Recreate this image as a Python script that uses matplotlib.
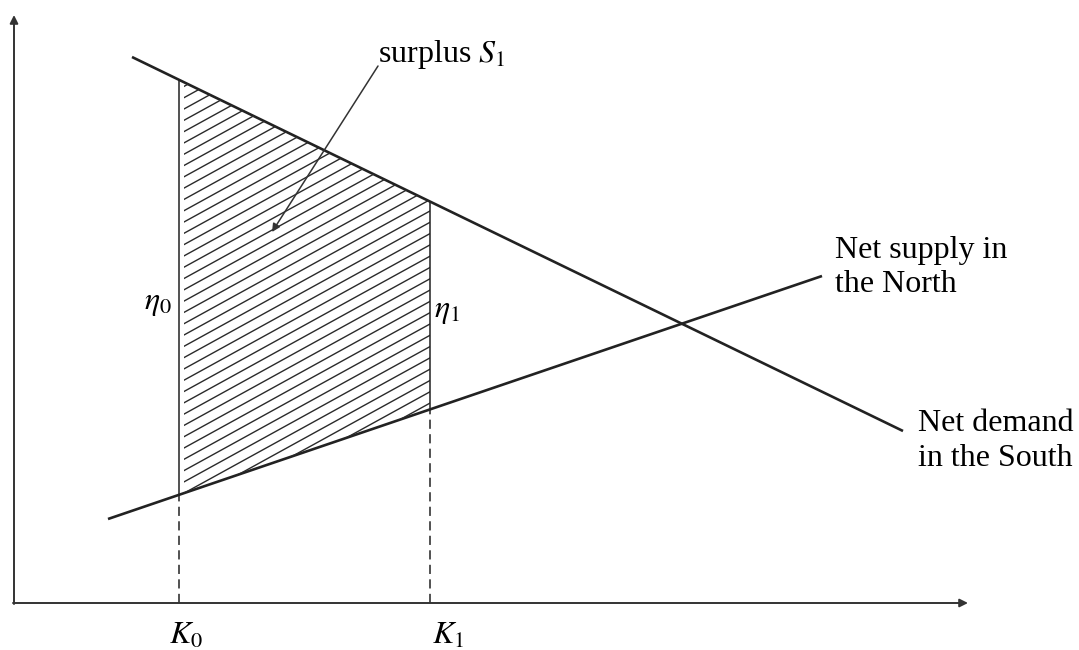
import numpy as np
import matplotlib.pyplot as plt
from matplotlib.patches import Polygon

plt.rcParams['font.family'] = ['Liberation Serif', 'DejaVu Serif']
plt.rcParams['mathtext.fontset'] = 'stix'

# endpoints of the two lines (origin at the corner of the axes)
demand_x = [118, 889]
demand_y = [546, 172]
supply_x = [94, 808]
supply_y = [84, 327]

K0 = 165
K1 = 416
x_end = 954
y_end = 588


def line_y(xs, ys, x):
    return np.interp(x, xs, ys)


fig = plt.figure(figsize=(10.79, 6.5), dpi=100)
ax = fig.add_axes([0, 0, 1, 1])
ax.set_xlim(-14, 1065)
ax.set_ylim(-47, 603)
ax.axis('off')

# axes with arrows
ax.annotate('', xy=(x_end, 0), xytext=(-1, 0),
            arrowprops=dict(arrowstyle='-|>', lw=1.4, color='#333333',
                            mutation_scale=12, shrinkA=0, shrinkB=0))
ax.annotate('', xy=(0, y_end), xytext=(0, -1),
            arrowprops=dict(arrowstyle='-|>', lw=1.4, color='#333333',
                            mutation_scale=12, shrinkA=0, shrinkB=0))

# demand and supply
ax.plot(demand_x, demand_y, color='#222222', lw=1.9, solid_capstyle='butt')
ax.plot(supply_x, supply_y, color='#222222', lw=1.9, solid_capstyle='butt')

d0 = line_y(demand_x, demand_y, K0)
d1 = line_y(demand_x, demand_y, K1)
s0 = line_y(supply_x, supply_y, K0)
s1 = line_y(supply_x, supply_y, K1)

# hatched surplus area
poly = Polygon([(K0 + 5, s0 + 2), (K0 + 5, d0 - 2), (K1, d1), (K1, s1)],
               closed=True, facecolor='none', edgecolor='none')
ax.add_patch(poly)
slope = 0.55
for c in np.arange(-600, 600, 11.3):
    xs = np.array([K0 - 10, K1 + 10])
    hl, = ax.plot(xs, s0 + c + slope * (xs - K0), color='#2a2a2a', lw=1.0)
    hl.set_clip_path(poly)

# vertical lines at K0, K1
ax.plot([K0, K0], [s0, d0], color='#222222', lw=1.1)
ax.plot([K1, K1], [s1, d1], color='#222222', lw=1.1)
ax.plot([K0, K0], [0, s0], color='#222222', lw=1.1, linestyle=(0, (6, 3.5)))
ax.plot([K1, K1], [0, s1], color='#222222', lw=1.1, linestyle=(0, (6, 3.5)))

fs = 23
ax.text(K0 - 21, 300, r'$\eta_0$', fontsize=fs, ha='center', va='center')
ax.text(K1 + 17, 291, r'$\eta_1$', fontsize=fs, ha='center', va='center')
ax.text(K0 + 7, -33, r'$K_0$', fontsize=fs, ha='center', va='center')
ax.text(K1 + 18, -33, r'$K_1$', fontsize=fs, ha='center', va='center')

ax.text(364, 541, r'surplus $S_1$', fontsize=fs, ha='left', va='baseline')
ax.annotate('', xy=(258, 371), xytext=(364, 537),
            arrowprops=dict(arrowstyle='-|>', lw=1.1, color='#333333',
                            mutation_scale=12, shrinkA=0, shrinkB=0))

ax.text(821, 367, 'Net supply in\nthe North', fontsize=fs, ha='left', va='top',
        linespacing=1.25)
ax.text(904, 194, 'Net demand\nin the South', fontsize=fs, ha='left', va='top',
        linespacing=1.25)

fig.savefig('out.png', dpi=100)
